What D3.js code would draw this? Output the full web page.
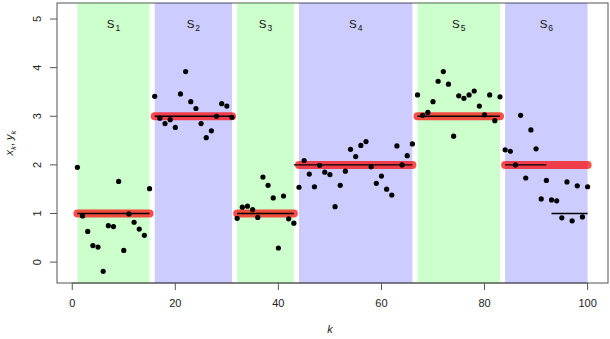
<!DOCTYPE html>
<html>
<head>
<meta charset="utf-8">
<script src="https://cdn.jsdelivr.net/npm/d3@7"></script>
<style>
  body { margin: 0; background: white; }
  text { font-family: "Liberation Sans", Arial, sans-serif; }
</style>
</head>
<body>
<div id="chart"></div>
<script>
// observations y_k, k = 1..100
const yValues = [
    1.95, 0.95, 0.63, 0.34, 0.31, -0.19, 0.75, 0.73, 1.66, 0.24, 0.99, 0.82, 0.68, 0.55, 1.51,
    3.41, 2.96, 2.85, 2.93, 2.77, 3.46, 3.92, 3.30, 3.16, 2.85, 2.56, 2.70, 3.00, 3.26, 3.21, 2.98,
    0.90, 1.13, 1.15, 1.08, 0.92, 1.75, 1.58, 1.32, 0.29, 1.36, 0.89, 0.80,
    1.54, 2.09, 1.81, 1.55, 1.99, 1.85, 1.80, 1.14, 1.58, 1.87, 2.32, 2.17, 2.40, 2.48, 1.96, 1.62,
    1.77, 1.50, 1.38, 2.39, 2.00, 2.19, 2.43,
    3.44, 3.02, 3.08, 3.30, 3.72, 3.92, 3.66, 2.59, 3.42, 3.37, 3.44, 3.52, 3.21, 3.03, 3.44, 2.91, 3.40,
    2.31, 2.28, 2.00, 3.02, 1.73, 2.72, 2.33, 1.30, 1.68, 1.28, 1.26, 0.91, 1.65, 0.85, 1.57, 0.93, 1.55
];

// true segments: [first k, last k, mean x_k]
const segStart = [1, 16, 32, 44, 67, 84];
const segEnd = [15, 31, 43, 66, 83, 100];
const segMean = [1, 3, 1, 2, 3, 2];
const segLabels = ["1", "2", "3", "4", "5", "6"];

// estimated segments: [from, to, level]
const estFrom = [1, 16, 32, 43, 67, 84, 93];
const estTo = [15, 31, 43, 66, 83, 92, 100];
const estLevel = [1, 3, 1, 2, 3, 2, 1];

const xTicks = [0, 20, 40, 60, 80, 100];
const yTicks = [0, 1, 2, 3, 4, 5];

const W = 610, H = 339;
const margin = { top: 3, right: 2, bottom: 56, left: 57 };
const plotW = W - margin.left - margin.right;
const plotH = H - margin.top - margin.bottom;

const svg = d3.select("#chart")
    .append("svg")
    .attr("width", W)
    .attr("height", H);

const g = svg.append("g")
    .attr("transform", `translate(${margin.left},${margin.top})`);

const x = d3.scaleLinear()
    .domain([-2.96, 103.96])
    .range([0, plotW]);

const y = d3.scaleLinear()
    .domain([-0.43, 5.33])
    .range([plotH, 0]);

// box
g.append("rect")
    .attr("x", 0).attr("y", 0)
    .attr("width", plotW).attr("height", plotH)
    .attr("fill", "none")
    .attr("stroke", "#555")
    .attr("stroke-width", 1);

// bands
const segs = segStart.map((s, i) => ({ s: s, e: segEnd[i], m: segMean[i], lab: segLabels[i], i: i }));

g.selectAll(".band")
    .data(segs)
    .enter().append("rect")
    .attr("x", d => x(d.s))
    .attr("y", 0)
    .attr("width", d => x(d.e) - x(d.s))
    .attr("height", plotH)
    .attr("fill", d => d.i % 2 === 0 ? "rgba(0,255,0,0.2)" : "rgba(0,0,255,0.2)");

// segment labels
const labs = g.selectAll(".seglab")
    .data(segs)
    .enter().append("text")
    .attr("x", d => x((d.s + d.e) / 2))
    .attr("y", 25)
    .attr("text-anchor", "middle")
    .attr("font-size", 11.5)
    .attr("fill", "#111");
labs.append("tspan").text("S");
labs.append("tspan")
    .attr("font-size", 8.5)
    .attr("dy", 3)
    .attr("dx", 1)
    .text(d => d.lab);

// true means (thick red)
g.selectAll(".mean")
    .data(segs)
    .enter().append("line")
    .attr("x1", d => x(d.s))
    .attr("x2", d => x(d.e))
    .attr("y1", d => y(d.m))
    .attr("y2", d => y(d.m))
    .attr("stroke", "rgba(255,0,0,0.7)")
    .attr("stroke-width", 8)
    .attr("stroke-linecap", "round");

// estimated levels (thin black)
const ests = estFrom.map((f, i) => ({ f: f, t: estTo[i], v: estLevel[i] }));
g.selectAll(".est")
    .data(ests)
    .enter().append("line")
    .attr("x1", d => x(d.f))
    .attr("x2", d => x(d.t))
    .attr("y1", d => y(d.v))
    .attr("y2", d => y(d.v))
    .attr("stroke", "black")
    .attr("stroke-width", 1.3);

// points
g.selectAll(".pt")
    .data(yValues)
    .enter().append("circle")
    .attr("cx", (d, i) => x(i + 1))
    .attr("cy", d => y(d))
    .attr("r", 2.6)
    .attr("fill", "black");

// x axis (R style)
const xAxis = g.append("g").attr("transform", `translate(0,${plotH})`);
xAxis.append("line")
    .attr("x1", x(0)).attr("x2", x(100))
    .attr("stroke", "#555");
xAxis.selectAll(".xt")
    .data(xTicks)
    .enter().append("line")
    .attr("x1", d => x(d)).attr("x2", d => x(d))
    .attr("y1", 0).attr("y2", 7)
    .attr("stroke", "#555");
xAxis.selectAll(".xl")
    .data(xTicks)
    .enter().append("text")
    .attr("x", d => x(d))
    .attr("y", 24)
    .attr("text-anchor", "middle")
    .attr("font-size", 11)
    .attr("fill", "#222")
    .text(d => d);

// y axis, labels parallel to axis
const yAxis = g.append("g");
yAxis.selectAll(".yt")
    .data(yTicks)
    .enter().append("line")
    .attr("x1", -7).attr("x2", 0)
    .attr("y1", d => y(d)).attr("y2", d => y(d))
    .attr("stroke", "#555");
yAxis.selectAll(".yl")
    .data(yTicks)
    .enter().append("text")
    .attr("transform", d => `translate(-16,${y(d)}) rotate(-90)`)
    .attr("text-anchor", "middle")
    .attr("font-size", 11)
    .attr("fill", "#222")
    .text(d => d);

// axis titles
svg.append("text")
    .attr("x", margin.left + x(50))
    .attr("y", 333)
    .attr("text-anchor", "middle")
    .attr("font-size", 11)
    .attr("font-style", "italic")
    .attr("fill", "#222")
    .text("k");

const yl = svg.append("text")
    .attr("transform", `translate(13,${margin.top + plotH / 2}) rotate(-90)`)
    .attr("text-anchor", "middle")
    .attr("font-size", 11)
    .attr("font-style", "italic")
    .attr("fill", "#222");
yl.append("tspan").text("x");
yl.append("tspan").attr("font-size", 8).attr("dy", 3).text("k");
yl.append("tspan").attr("dy", -3).attr("font-style", "normal").text(", ");
yl.append("tspan").text("y");
yl.append("tspan").attr("font-size", 8).attr("dy", 3).text("k");
</script>
</body>
</html>
